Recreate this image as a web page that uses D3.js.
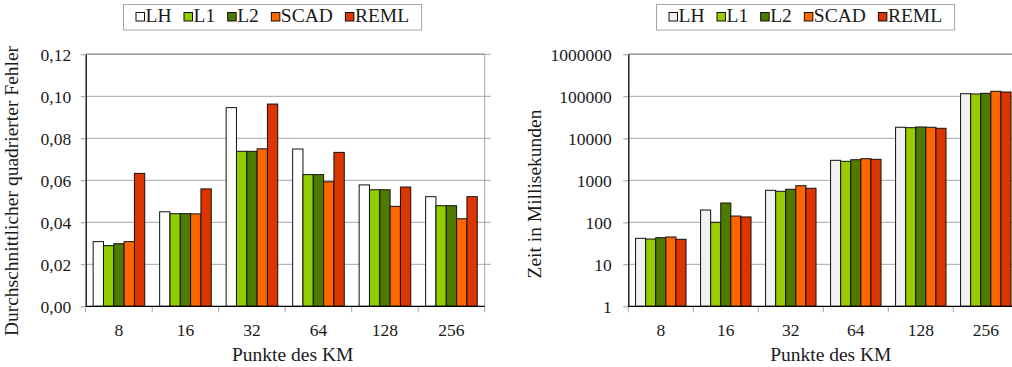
<!DOCTYPE html>
<html>
<head>
<meta charset="utf-8">
<script src="https://cdn.jsdelivr.net/npm/d3@7/dist/d3.min.js"></script>
<style>
  html, body { margin: 0; padding: 0; background: #fff; }
  svg { display: block; }
</style>
</head>
<body>
<svg id="chart" width="1012" height="367"></svg>
<script>
// Number of points of the KM (x categories)
const categories = ["8", "16", "32", "64", "128", "256"];
const seriesNames = ["LH", "L1", "L2", "SCAD", "REML"];

// Mean squared error per method
const errLH   = [0.0308, 0.0450, 0.0946, 0.0749, 0.0578, 0.0522];
const errL1   = [0.0289, 0.0441, 0.0738, 0.0627, 0.0555, 0.0479];
const errL2   = [0.0298, 0.0441, 0.0738, 0.0627, 0.0555, 0.0479];
const errSCAD = [0.0308, 0.0440, 0.0750, 0.0593, 0.0476, 0.0417];
const errREML = [0.0633, 0.0559, 0.0963, 0.0733, 0.0568, 0.0522];

// Run time in milliseconds per method
const timeLH   = [41.6, 196, 578, 2990, 18300, 115300];
const timeL1   = [40.0, 100, 547, 2830, 17900, 113500];
const timeL2   = [43.0, 288, 611, 3090, 18600, 117800];
const timeSCAD = [44.7, 141, 743, 3270, 18300, 131600];
const timeREML = [39.4, 134, 645, 3160, 17300, 126500];

const errTicks  = [0, 0.02, 0.04, 0.06, 0.08, 0.10, 0.12];
const timeTicks = [1, 10, 100, 1000, 10000, 100000, 1000000];

const colorsLeft  = ["#ffffff", "#8fcc00", "#4f7a00", "#ff6600", "#dc3500"];
const colorsRight = ["#f2f2f2", "#99cc00", "#4f7a00", "#ff6600", "#dc3500"];

const FONT = '"Liberation Serif"';
const INK = "#1a1a1a";

const svg = d3.select("#chart");
const deFmt = d3.formatLocale({decimal: ",", thousands: "", grouping: [3], currency: ["", ""]});

function styleText(sel, size) {
  return sel.style("font-family", FONT).style("font-size", size + "px").style("fill", INK);
}

function drawPanel(opt) {
  const g = svg.append("g");
  const {left, right, top, bottom} = opt;

  const x0 = d3.scaleBand().domain(categories).range([left, right]).padding(0);
  const pad = x0.bandwidth() * 0.112;
  const x1 = d3.scaleBand().domain(seriesNames).range([pad, x0.bandwidth() - pad]).padding(0);
  const y = opt.y.range([bottom, top]);

  // horizontal gridlines
  g.append("g").selectAll("line").data(opt.ticks.slice(1)).join("line")
    .attr("x1", left).attr("x2", right + 6)
    .attr("y1", d => y(d)).attr("y2", d => y(d))
    .attr("stroke", "#a6a6a6").attr("stroke-width", 1);
  // top edge and right edge of the plot area
  g.append("line").attr("x1", left).attr("x2", right)
    .attr("y1", top).attr("y2", top)
    .attr("stroke", "#9a9a9a").attr("stroke-width", 1.6);
  g.append("line").attr("x1", right).attr("x2", right)
    .attr("y1", top).attr("y2", bottom)
    .attr("stroke", "#a6a6a6").attr("stroke-width", 1);

  // bars
  const rows = categories.map((c, i) => ({cat: c, vals: opt.series.map((s, k) => ({name: seriesNames[k], v: s[i], k}))}));
  g.append("g").selectAll("g").data(rows).join("g")
    .attr("transform", d => `translate(${x0(d.cat)},0)`)
    .selectAll("rect").data(d => d.vals).join("rect")
      .attr("x", d => x1(d.name))
      .attr("width", x1.bandwidth())
      .attr("y", d => y(d.v))
      .attr("height", d => y(opt.base) - y(d.v))
      .attr("fill", d => opt.colors[d.k])
      .attr("stroke", "#111").attr("stroke-width", 1);

  // y axis
  const yAxis = d3.axisLeft(y).tickValues(opt.ticks).tickFormat(opt.fmt)
    .tickSize(5).tickSizeOuter(0).tickPadding(opt.labelPad);
  const ya = g.append("g").attr("transform", `translate(${left},0)`).call(yAxis)
    .attr("font-family", null).attr("font-size", null);
  ya.select(".domain").attr("stroke", "#000").attr("stroke-width", 1.3);
  ya.selectAll(".tick line").attr("stroke", "#999");
  styleText(ya.selectAll(".tick text"), 17.5).attr("dy", "0.34em");

  // x axis: category labels centred in bands, ticks at band boundaries
  const xAxis = d3.axisBottom(x0).tickSize(0).tickSizeOuter(0).tickPadding(17);
  const xa = g.append("g").attr("transform", `translate(0,${bottom})`).call(xAxis)
    .attr("font-family", null).attr("font-size", null);
  xa.select(".domain").remove();
  styleText(xa.selectAll(".tick text"), 17.5);
  const bounds = categories.map(c => x0(c)).concat([right]);
  g.append("g").selectAll("line").data(bounds).join("line")
    .attr("x1", d => d).attr("x2", d => d)
    .attr("y1", bottom).attr("y2", bottom + 6)
    .attr("stroke", "#a6a6a6");
  g.append("line").attr("x1", left).attr("x2", right)
    .attr("y1", bottom).attr("y2", bottom)
    .attr("stroke", "#000").attr("stroke-width", 1.3);

  // axis titles
  styleText(g.append("text"), 19.5).attr("x", (left + right) / 2 + 7.5).attr("y", 361)
    .attr("text-anchor", "middle").text("Punkte des KM");
  styleText(g.append("text"), 19.5).attr("transform", `translate(${opt.yTitleX},${opt.yTitleY}) rotate(-90)`)
    .attr("text-anchor", "middle").text(opt.yTitle);

  // legend
  const lg = g.append("g");
  const box = lg.append("rect").attr("y", 4.5).attr("height", 25.5)
    .attr("fill", "#fff").attr("stroke", "#a6a6a6").attr("stroke-width", 1);
  let cx = opt.legendX + 12.5;
  seriesNames.forEach((name, k) => {
    lg.append("rect").attr("x", cx).attr("y", 12.5).attr("width", 8.5).attr("height", 8.5)
      .attr("fill", opt.colors[k]).attr("stroke", "#111").attr("stroke-width", 1);
    const t = styleText(lg.append("text"), 19.5).attr("x", cx + 9.5).attr("y", 22).text(name);
    cx += 9.5 + t.node().getComputedTextLength() + 12.5;
  });
  box.attr("x", opt.legendX).attr("width", cx - opt.legendX);
}

drawPanel({
  left: 85.7, right: 484.7, top: 54.3, bottom: 306.3,
  y: d3.scaleLinear().domain([0, 0.12]), base: 0,
  ticks: errTicks, fmt: deFmt.format(".2f"), labelPad: 9.5,
  series: [errLH, errL1, errL2, errSCAD, errREML], colors: colorsLeft,
  yTitle: "Durchschnittlicher quadrierter Fehler", yTitleX: 18, yTitleY: 191,
  legendX: 123.5
});

drawPanel({
  left: 628.3, right: 1018.3, top: 54.3, bottom: 306.3,
  y: d3.scaleLog().domain([1, 1e6]), base: 1,
  ticks: timeTicks, fmt: d3.format("d"), labelPad: 11.5,
  series: [timeLH, timeL1, timeL2, timeSCAD, timeREML], colors: colorsRight,
  yTitle: "Zeit in Millisekunden", yTitleX: 541, yTitleY: 194,
  legendX: 656.5
});
</script>
</body>
</html>
